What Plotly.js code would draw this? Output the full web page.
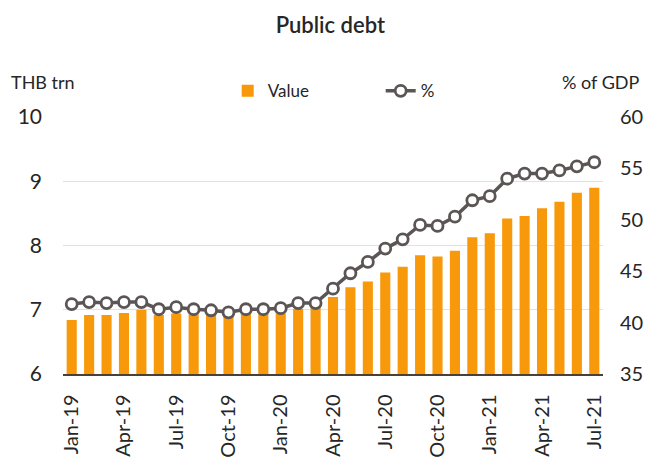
<!DOCTYPE html>
<html>
<head>
<meta charset="utf-8">
<script src="https://cdn.plot.ly/plotly-3.0.1.min.js"></script>
<style>html,body{margin:0;padding:0;background:#fff;}#chart{width:651px;height:458px;}</style>
</head>
<body>
<div id="chart"></div>
<script>
const months = ["Jan-19","Feb-19","Mar-19","Apr-19","May-19","Jun-19","Jul-19","Aug-19","Sep-19","Oct-19","Nov-19","Dec-19",
  "Jan-20","Feb-20","Mar-20","Apr-20","May-20","Jun-20","Jul-20","Aug-20","Sep-20","Oct-20","Nov-20","Dec-20",
  "Jan-21","Feb-21","Mar-21","Apr-21","May-21","Jun-21","Jul-21"];
const debtValue = [6.84,6.92,6.92,6.95,7.00,6.92,6.94,6.93,6.92,6.91,6.94,6.94,
  6.94,7.01,7.04,7.20,7.35,7.44,7.58,7.67,7.85,7.83,7.92,8.13,
  8.19,8.42,8.46,8.58,8.68,8.82,8.90];
const debtPct = [41.8,42.0,41.9,42.0,42.0,41.3,41.5,41.3,41.2,41.0,41.3,41.3,
  41.4,41.9,41.9,43.3,44.8,45.9,47.2,48.1,49.5,49.4,50.3,51.9,
  52.3,54.0,54.5,54.5,54.8,55.2,55.6];
const xTickLabels = ["Jan-19","Apr-19","Jul-19","Oct-19","Jan-20","Apr-20","Jul-20","Oct-20","Jan-21","Apr-21","Jul-21"];
const leftTicks = [6,7,8,9,10];
const rightTicks = [35,40,45,50,55,60];

const FONT = "Lato, 'Open Sans', sans-serif";
const TXT = "#262626";

const traces = [
  {
    type: "bar", name: "Value", x: months, y: debtValue,
    marker: {color: "#F7990B"}, width: 0.58, yaxis: "y"
  },
  {
    type: "scatter", mode: "lines+markers", name: "%", x: months, y: debtPct, yaxis: "y2",
    line: {color: "#5C5555", width: 3.5},
    marker: {symbol: "circle", size: 11, color: "#ffffff", line: {color: "#5C5555", width: 2.8}}
  }
];

const layout = {
  width: 651, height: 458,
  margin: {l: 63, r: 48, t: 117, b: 84},
  paper_bgcolor: "#ffffff", plot_bgcolor: "#ffffff",
  font: {family: FONT, color: TXT},
  showlegend: true,
  title: {text: "Public debt", font: {family: FONT, size: 22, color: TXT, weight: 600},
    xref: "paper", x: 0.495, xanchor: "center", y: 0.945, yanchor: "middle"},
  legend: {orientation: "h", x: 0.305, xanchor: "left", y: 1.10, yanchor: "middle",
    font: {family: FONT, size: 17, color: TXT}, entrywidth: 108, entrywidthmode: "pixels", bgcolor: "rgba(0,0,0,0)"},
  bargap: 0.4,
  xaxis: {
    type: "category", tickmode: "array", tickvals: xTickLabels, ticktext: xTickLabels,
    tickangle: -90, tickfont: {family: FONT, size: 20, color: TXT},
    showgrid: false, zeroline: false, showline: true, linecolor: "#4a4036", linewidth: 1.5,
    ticks: "", ticklabelstandoff: 11, range: [-0.5, 30.5]
  },
  yaxis: {
    range: [6, 10], tickvals: leftTicks, ticktext: leftTicks.map(String),
    tickfont: {family: FONT, size: 21, color: TXT},
    showgrid: true, gridcolor: "#e2e2e2", gridwidth: 1, zeroline: false, showline: false,
    ticks: "", ticklabelstandoff: 20
  },
  yaxis2: {
    overlaying: "y", side: "right", range: [35, 60], tickvals: rightTicks, ticktext: rightTicks.map(String),
    tickfont: {family: FONT, size: 20, color: TXT},
    showgrid: false, zeroline: false, showline: false, ticks: "", ticklabelstandoff: 16
  },
  annotations: [
    {text: "THB trn", xref: "paper", yref: "paper", x: -0.1, y: 1.136, xanchor: "left", yanchor: "middle",
      showarrow: false, font: {family: FONT, size: 18, color: TXT}},
    {text: "% of GDP", xref: "paper", yref: "paper", x: 1.07, y: 1.136, xanchor: "right", yanchor: "middle",
      showarrow: false, font: {family: FONT, size: 18, color: TXT}}
  ]
};

Plotly.newPlot("chart", traces, layout, {displayModeBar: false, staticPlot: true});
</script>
</body>
</html>
